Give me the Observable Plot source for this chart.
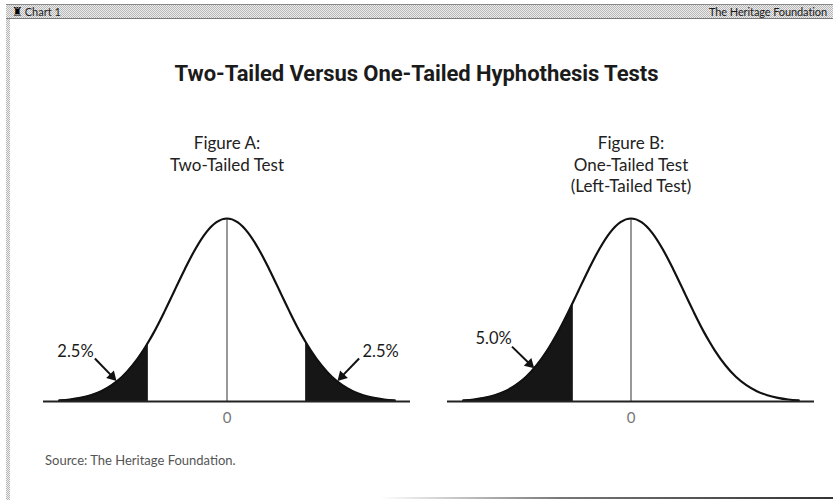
<!DOCTYPE html>
<html>
<head>
<meta charset="utf-8">
<script src="https://cdn.jsdelivr.net/npm/d3@7"></script>
<script src="https://cdn.jsdelivr.net/npm/@observablehq/plot@0.6"></script>
<style>
html, body { margin: 0; padding: 0; background: #fff; }
#page { position: relative; width: 833px; height: 500px; overflow: hidden; font-family: Lato, "Open Sans", sans-serif; background: #fff; }
.half { background-color: #d2d2d2; background-image: repeating-conic-gradient(#b8b8b8 0 25%, #ececec 0 50%); background-size: 2px 2px; }
#header { position: absolute; left: 6px; top: 4px; width: 840px; height: 15px; border-top: 1px solid #8a8a8a; border-bottom: 1px solid #7a7a7a; box-sizing: border-box; }
#header .l { position: absolute; left: 6px; top: 0px; font-size: 11px; line-height: 13px; color: #222; }
#header .l span.icon { font-family: "DejaVu Sans"; font-size: 12px; margin-right: 2px; color: #000; }
#header .r { position: absolute; left: 703px; top: 0px; font-size: 11px; line-height: 13px; color: #1a1a1a; white-space: nowrap; letter-spacing: -0.1px; }
#leftstrip { position: absolute; left: 6px; top: 19px; width: 4px; height: 481px; }
#bottomline { position: absolute; left: 380px; top: 497px; width: 453px; height: 2px; background: linear-gradient(to right, rgba(120,120,120,0), #777 40%, #333); }
#title { position: absolute; left: 0; top: 62px; width: 833px; text-align: center; font-family: Roboto, sans-serif; font-weight: 700; font-size: 22px; line-height: 24px; color: #1b1b1b; letter-spacing: -0.05px; }
#source { position: absolute; left: 45px; top: 452px; font-size: 13px; color: #555; font-family: Lato, sans-serif; }
.plot { position: absolute; top: 120px; }
</style>
</head>
<body>
<div id="page">
  <div id="header" class="half"><div class="l"><span class="icon">♜</span>Chart 1</div><div class="r">The Heritage Foundation</div></div>
  <div id="leftstrip" class="half"></div>
  <div id="bottomline"></div>
  <div id="title">Two-Tailed Versus One-Tailed Hyphothesis Tests</div>
  <div id="plotA" class="plot" style="left:27px"></div>
  <div id="plotB" class="plot" style="left:431px"></div>
  <div id="source">Source: The Heritage Foundation.</div>
</div>
<script>
// Standardised position (z) and relative height of the bell curve (peak = 1)
const curveZ = [-3.2,-3.0,-2.8,-2.6,-2.4,-2.2,-2.0,-1.8,-1.6,-1.5,-1.4,-1.2,-1.1,-1.0,-0.8,-0.6,-0.4,-0.2,0,0.2,0.4,0.6,0.8,1.0,1.1,1.2,1.4,1.5,1.6,1.8,2.0,2.2,2.4,2.6,2.8,3.0,3.2];
const curveDensity = [0.006,0.011,0.020,0.034,0.056,0.089,0.135,0.198,0.278,0.325,0.375,0.487,0.546,0.607,0.726,0.835,0.923,0.980,1,0.980,0.923,0.835,0.726,0.607,0.546,0.487,0.375,0.325,0.278,0.198,0.135,0.089,0.056,0.034,0.020,0.011,0.006];

// Figure A: two-tailed test
const titleA = "Figure A:\nTwo-Tailed Test";
const tailsA = [[-3.2, -1.5], [1.5, 3.2]];
const labelsA = ["2.5%", "2.5%"];
const labelZA = [-2.89, 2.93];
const labelDA = [0.245, 0.245];
const arrowFromZA = [-2.52, 2.52];
const arrowFromDA = [0.235, 0.235];
const arrowToZA = [-2.19, 2.19];
const arrowToDA = [0.137, 0.137];

// Figure B: one-tailed (left) test
const titleB = "Figure B:\nOne-Tailed Test\n(Left-Tailed Test)";
const tailsB = [[-3.2, -1.1]];
const labelsB = ["5.0%"];
const labelZB = [-2.62];
const labelDB = [0.315];
const arrowFromZB = [-2.27];
const arrowFromDB = [0.30];
const arrowToZB = [-1.93];
const arrowToDB = [0.205];

const xTicks = [0];

const curve = curveZ.map((z, i) => ({z, d: curveDensity[i]}));

const W = 400, H = 320, ML = 16, MR = 17, MT = 98, MB = 39;
const xDomain = [-3.5, 3.5];
const pxPerZ = (W - ML - MR) / (xDomain[1] - xDomain[0]);
const pxPerD = (H - MT - MB);

function panel(title, tails, labels, lz, ld, afz, afd, atz, atd) {
  const labelData = labels.map((t, i) => ({t, z: lz[i], d: ld[i]}));
  const arrowData = afz.map((z, i) => {
    const dx = (atz[i] - z) * pxPerZ, dy = -(atd[i] - afd[i]) * pxPerD;
    const ang = Math.atan2(dy, dx) * 180 / Math.PI + 90;
    return {z1: z, d1: afd[i], z2: atz[i], d2: atd[i], ang};
  });
  const tailMarks = tails.map(([a, b]) =>
    Plot.areaY(curve.filter(p => p.z >= a && p.z <= b), {x: "z", y: "d", curve: "monotone-x", fill: "#161616"}));
  return Plot.plot({
    width: W,
    height: H,
    marginLeft: ML,
    marginRight: MR,
    marginTop: MT,
    marginBottom: MB,
    style: {fontFamily: "Lato, sans-serif", background: "transparent", overflow: "visible"},
    x: {domain: xDomain},
    y: {domain: [0, 1], axis: null},
    marks: [
      ...tailMarks,
      Plot.ruleX(xTicks, {y1: 0, y2: 1, stroke: "#333", strokeWidth: 1}),
      Plot.lineY(curve, {x: "z", y: "d", curve: "monotone-x", stroke: "#111", strokeWidth: 2.2}),
      Plot.ruleY([0], {stroke: "#222", strokeWidth: 2}),
      Plot.axisX({ticks: xTicks, tickSize: 0, tickPadding: 11, fontSize: 15, fill: "#777", tickFormat: d => String(d)}),
      Plot.text([title], {frameAnchor: "top", x: () => 0, text: d => d, lineAnchor: "top", dy: -84, fontSize: 17, lineHeight: 1.24, fill: "#222", letterSpacing: "-0.4px"}),
      Plot.text(labelData, {x: "z", y: "d", text: "t", lineAnchor: "bottom", fontSize: 16.5, fill: "#1a1a1a", letterSpacing: "-0.4px"}),
      Plot.link(arrowData, {x1: "z1", y1: "d1", x2: "z2", y2: "d2", stroke: "#111", strokeWidth: 2}),
      Plot.dot(arrowData, {x: "z2", y: "d2", symbol: "triangle", r: 4, fill: "#111", rotate: "ang"})
    ]
  });
}

document.getElementById("plotA").appendChild(
  panel(titleA, tailsA, labelsA, labelZA, labelDA, arrowFromZA, arrowFromDA, arrowToZA, arrowToDA));
document.getElementById("plotB").appendChild(
  panel(titleB, tailsB, labelsB, labelZB, labelDB, arrowFromZB, arrowFromDB, arrowToZB, arrowToDB));
</script>
</body>
</html>
